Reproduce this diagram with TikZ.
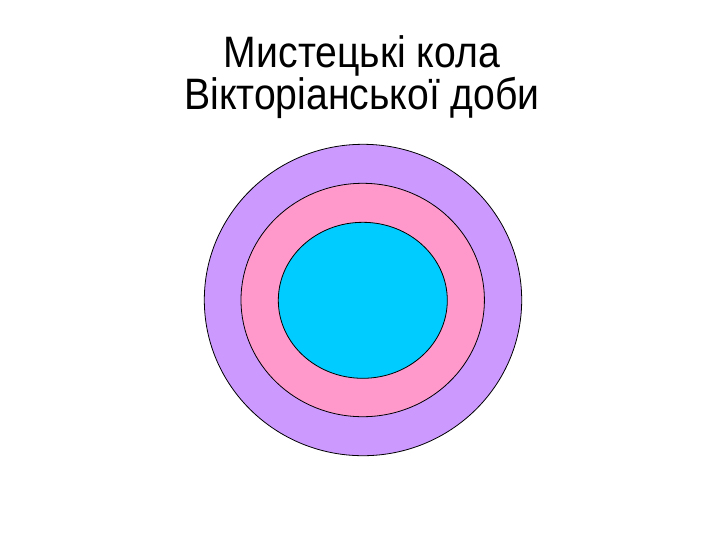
\documentclass[tikz,border=0pt]{standalone}
\usepackage{fontspec}
\setmainfont{Liberation Sans}
\definecolor{lav}{HTML}{CC99FF}
\definecolor{pnk}{HTML}{FF99CC}
\definecolor{cyn}{HTML}{00CCFF}
\begin{document}
\begin{tikzpicture}[x=0.75pt,y=-0.75pt,
  ring/.style={draw=black,line width=0.6pt}]
\useasboundingbox (0,0) rectangle (720,540);
\fill[white] (0,0) rectangle (720,540);
\node[align=center,font=\fontsize{33}{31.5}\selectfont,anchor=base,inner sep=0pt,xscale=0.89,transform shape] (title) at (362,109.3) {Мистецькі кола\\Вікторіанської доби};
\filldraw[ring,fill=lav] (363,300) ellipse [x radius=158.7, y radius=155.7];
\filldraw[ring,fill=pnk] (362.7,300) ellipse [x radius=121.7, y radius=116.7];
\filldraw[ring,fill=cyn] (362.8,300.3) ellipse [x radius=84.5, y radius=78];
\end{tikzpicture}
\end{document}
